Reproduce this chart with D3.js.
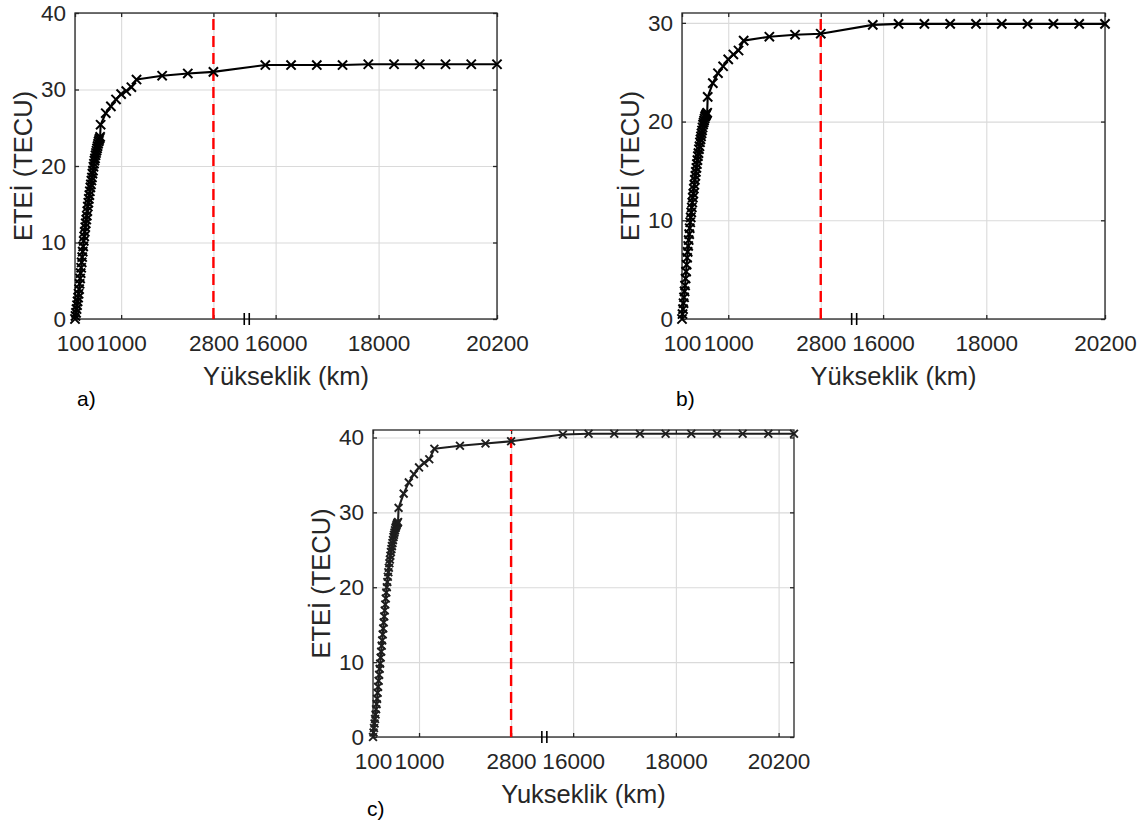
<!DOCTYPE html>
<html>
<head>
<meta charset="utf-8">
<script src="https://cdn.jsdelivr.net/npm/d3@7"></script>
<style>
  body { margin: 0; background: #fff; }
  svg { display: block; }
  text { font-family: "Liberation Sans", Arial, Helvetica, sans-serif; }
</style>
</head>
<body>
<svg id="fig" width="1146" height="828"></svg>
<script>
// Integration heights (km): 10 km steps in the ionosphere, then coarser steps up to GPS altitude
const heights = [
  100, 110, 120, 130, 140, 150, 160, 170, 180, 190,
  200, 210, 220, 230, 240, 250, 260, 270, 280, 290,
  300, 310, 320, 330, 340, 350, 360, 370, 380, 390,
  400, 410, 420, 430, 440, 450, 460, 470, 480, 490,
  500, 510, 520, 530, 540, 550, 560, 570, 580, 590,
  600, 700, 800, 900, 1000, 1100, 1200, 1300, 1800, 2300, 2800,
  15800, 16300, 16800, 17300, 17800, 18300, 18800, 19300, 19800, 20300
];

// Cumulative electron content (TECU) at each height
const tecA = [
  0.0, 0.4, 0.8, 1.3, 1.8, 2.3, 2.8, 3.3, 3.9, 4.6,
  5.3, 6.0, 6.7, 7.4, 8.1, 8.8, 9.5, 10.2, 10.8, 11.4,
  12.0, 12.5, 13.0, 13.5, 14.1, 14.7, 15.2, 15.7, 16.2, 16.7,
  17.2, 17.6, 18.1, 18.5, 19.0, 19.4, 19.9, 20.3, 20.7, 21.0,
  21.4, 21.7, 22.0, 22.3, 22.6, 22.9, 23.2, 23.4, 23.6, 23.8,
  25.4, 26.9, 27.8, 28.7, 29.4, 29.8, 30.3, 31.3, 31.8, 32.1, 32.3,
  33.2, 33.2, 33.2, 33.2, 33.3, 33.3, 33.3, 33.3, 33.3, 33.3
];
const tecB = [
  0.0, 0.5, 1.0, 1.6, 2.2, 2.8, 3.4, 4.1, 4.8, 5.5,
  6.2, 6.8, 7.4, 8.0, 8.6, 9.2, 9.8, 10.3, 10.8, 11.3,
  11.8, 12.3, 12.7, 13.2, 13.6, 14.1, 14.5, 14.9, 15.3, 15.7,
  16.1, 16.5, 16.8, 17.2, 17.5, 17.9, 18.2, 18.5, 18.8, 19.1,
  19.4, 19.7, 19.9, 20.1, 20.3, 20.5, 20.6, 20.7, 20.8, 20.9,
  22.5, 23.9, 24.9, 25.6, 26.3, 26.8, 27.2, 28.2, 28.6, 28.8, 28.9,
  29.8, 29.9, 29.9, 29.9, 29.9, 29.9, 29.9, 29.9, 29.9, 29.9
];
const tecC = [
  0.0, 0.6, 1.2, 1.8, 2.4, 3.0, 3.7, 4.4, 5.1, 5.9,
  6.7, 7.5, 8.3, 9.1, 9.8, 10.6, 11.4, 12.2, 12.9, 13.7,
  14.5, 15.3, 16.1, 16.9, 17.7, 18.5, 19.3, 20.0, 20.7, 21.4,
  22.0, 22.6, 23.2, 23.7, 24.2, 24.7, 25.1, 25.5, 25.9, 26.3,
  26.7, 27.0, 27.3, 27.6, 27.9, 28.1, 28.3, 28.5, 28.6, 28.7,
  30.6, 32.5, 34.0, 35.1, 36.0, 36.6, 37.1, 38.5, 38.9, 39.2, 39.5,
  40.4, 40.5, 40.5, 40.5, 40.5, 40.5, 40.5, 40.5, 40.5, 40.5
];

// Height of the reference (dashed) line, km
const refHeight = 2800;

// Axis ticks
const xTicksAB = [100, 1000, 2800, 16000, 18000, 20300];
const xTicksC = [100, 1000, 2800, 16000, 18000, 20000];
const xTickLabels = ["100", "1000", "2800", "16000", "18000", "20200"];
const yTicksA = [0, 10, 20, 30, 40];
const yTicksB = [0, 10, 20, 30];
const yTicksC = [0, 10, 20, 30, 40];

// Broken x axis: lower range 100–2800 km and upper range 15800–20300 km
const xStops = [100, 2800, 15800, 20300];
const xStopFrac = [0, 0.328, 0.451, 1];
const breakFrac = 0.407;

const FONT = '"Liberation Sans", Arial, Helvetica, sans-serif';
const INK = "#262626";

const panels = [
  { left: 75, top: 13, width: 422, height: 306, ymax: 40, yTicks: yTicksA, xTicks: xTicksAB,
    tec: tecA, xLabel: "Yükseklik (km)", tag: "a)", tagX: 77, tagY: 406, color: "#000", mk: 4.6, mw: 2.0 },
  { left: 682, top: 13, width: 423, height: 306, ymax: 31, yTicks: yTicksB, xTicks: xTicksAB,
    tec: tecB, xLabel: "Yükseklik (km)", tag: "b)", tagX: 676, tagY: 406, color: "#000", mk: 4.6, mw: 2.0 },
  { left: 373, top: 430, width: 421, height: 307, ymax: 41, yTicks: yTicksC, xTicks: xTicksC,
    tec: tecC, xLabel: "Yukseklik (km)", tag: "c)", tagX: 367, tagY: 816, color: "#1e1e1e", mk: 3.9, mw: 1.9 }
];

const svg = d3.select("#fig");
svg.append("rect").attr("width", 1146).attr("height", 828).attr("fill", "#fff");

panels.forEach(p => {
  const g = svg.append("g").attr("transform", `translate(${p.left},${p.top})`);
  const x = d3.scaleLinear().domain(xStops).range(xStopFrac.map(f => f * p.width));
  const y = d3.scaleLinear().domain([0, p.ymax]).range([p.height, 0]);

  // grid
  const gx = g.append("g").attr("transform", `translate(0,${p.height})`)
    .call(d3.axisBottom(x).tickValues(p.xTicks).tickSize(-p.height).tickSizeOuter(0).tickFormat(""));
  const gy = g.append("g")
    .call(d3.axisLeft(y).tickValues(p.yTicks).tickSize(-p.width).tickSizeOuter(0).tickFormat(""));
  [gx, gy].forEach(s => {
    s.select(".domain").remove();
    s.selectAll("line").attr("stroke", "#dadada").attr("stroke-width", 1.1);
  });

  // box
  g.append("rect").attr("width", p.width).attr("height", p.height)
    .attr("fill", "none").attr("stroke", INK).attr("stroke-width", 1.3);

  // axes with inward ticks
  const styleAxis = s => {
    s.attr("font-size", 22.5).attr("font-family", FONT).attr("color", INK);
    s.select(".domain").remove();
    s.selectAll("line").attr("stroke-width", 1.3);
  };
  g.append("g").attr("transform", `translate(0,${p.height})`)
    .call(d3.axisBottom(x).tickValues(p.xTicks).tickFormat((d, i) => xTickLabels[i])
      .tickSize(-4).tickSizeOuter(0).tickPadding(16))
    .call(styleAxis);
  g.append("g")
    .call(d3.axisTop(x).tickValues(p.xTicks).tickFormat("").tickSize(-4).tickSizeOuter(0))
    .call(styleAxis);
  g.append("g")
    .call(d3.axisLeft(y).tickValues(p.yTicks).tickSize(-4).tickSizeOuter(0).tickPadding(9))
    .call(styleAxis);
  g.append("g").attr("transform", `translate(${p.width},0)`)
    .call(d3.axisRight(y).tickValues(p.yTicks).tickFormat("").tickSize(-4).tickSizeOuter(0))
    .call(styleAxis);

  // axis break mark
  const bx = p.width * breakFrac;
  [-2.5, 2.5].forEach(dx => {
    g.append("line").attr("x1", bx + dx).attr("x2", bx + dx)
      .attr("y1", p.height - 6).attr("y2", p.height + 6)
      .attr("stroke", "#000").attr("stroke-width", 1.6);
  });

  // reference height
  g.append("line")
    .attr("x1", x(refHeight)).attr("x2", x(refHeight))
    .attr("y1", p.height).attr("y2", 0)
    .attr("stroke", "#ff0000").attr("stroke-width", 2.4)
    .attr("stroke-dasharray", "11,6");

  // profile
  const pts = heights.map((h, i) => ({ h, v: p.tec[i] }));
  g.append("path").datum(pts)
    .attr("fill", "none").attr("stroke", p.color).attr("stroke-width", 2.1)
    .attr("stroke-linejoin", "round")
    .attr("d", d3.line().x(d => x(d.h)).y(d => y(d.v)));
  const s = p.mk;
  g.append("g").selectAll("path").data(pts).join("path")
    .attr("transform", d => `translate(${x(d.h)},${y(d.v)})`)
    .attr("d", `M${-s},${-s}L${s},${s}M${-s},${s}L${s},${-s}`)
    .attr("stroke", p.color).attr("stroke-width", p.mw).attr("fill", "none");

  // labels
  g.append("text")
    .attr("x", p.width / 2).attr("y", p.height + 66)
    .attr("text-anchor", "middle").attr("font-size", 25.5).attr("fill", INK)
    .text(p.xLabel);
  g.append("text")
    .attr("transform", `translate(-43,${p.height / 2}) rotate(-90)`)
    .attr("text-anchor", "middle").attr("font-size", 25.5).attr("fill", INK)
    .text("ETEİ (TECU)");
  svg.append("text")
    .attr("x", p.tagX).attr("y", p.tagY)
    .attr("font-size", 21).attr("fill", "#000")
    .text(p.tag);
});
</script>
</body>
</html>
